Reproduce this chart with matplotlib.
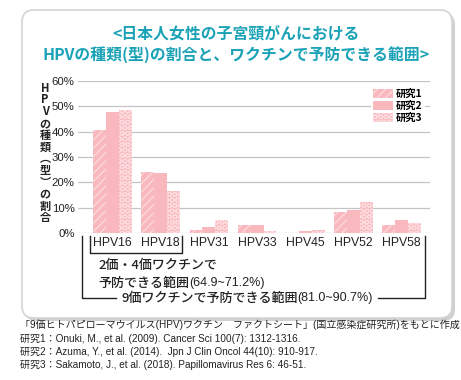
import numpy as np
import matplotlib
matplotlib.use("Agg")
import matplotlib.pyplot as plt
from matplotlib.patches import FancyBboxPatch, Patch

plt.rcParams['font.family'] = ['Liberation Sans', 'Noto Sans CJK JP', 'DejaVu Sans']
plt.rcParams['hatch.linewidth'] = 0.9

# data (percent)
hpv_types = ['HPV16', 'HPV18', 'HPV31', 'HPV33', 'HPV45', 'HPV52', 'HPV58']
study1 = [40.7, 24.0, 1.3, 3.0, 0.0, 8.4, 3.0]
study2 = [47.9, 23.7, 2.2, 3.0, 0.9, 8.9, 5.2]
study3 = [48.5, 16.6, 5.0, 0.9, 1.2, 12.1, 4.0]
study_names = ['研究1', '研究2', '研究3']
yticks = [0, 10, 20, 30, 40, 50, 60]

title_lines = ['<日本人女性の子宮頸がんにおける', 'HPVの種類(型)の割合と、ワクチンで予防できる範囲>']
ylabel_chars = ['H', 'P', 'V', 'の', '種', '類', '︵', '型', '︶', 'の', '割', '合']
notes = [
    '「9価ヒトパピローマウイルス(HPV)ワクチン　ファクトシート」(国立感染症研究所)をもとに作成',
    '研究1：Onuki, M., et al. (2009). Cancer Sci 100(7): 1312-1316.',
    '研究2：Azuma, Y., et al. (2014).  Jpn J Clin Oncol 44(10): 910-917.',
    '研究3：Sakamoto, J., et al. (2018). Papillomavirus Res 6: 46-51.',
]

W, H = 461, 380
pink = '#f8b8bd'
light = '#fcdadd'
cyan = '#1aa2b6'
ink = '#222222'
jp = ['Noto Sans CJK JP', 'DejaVu Sans']

fig = plt.figure(figsize=(W / 100, H / 100), dpi=100)
renderer = fig.canvas.get_renderer()

# background layer in pixel coordinates
bg = fig.add_axes([0, 0, 1, 1])
bg.set_xlim(0, W)
bg.set_ylim(H, 0)
bg.axis('off')

shadow = FancyBboxPatch((25, 13), 430, 308, boxstyle='round,pad=0,rounding_size=12',
                        facecolor='#d0d0d0', edgecolor='none')
bg.add_patch(shadow)
box = FancyBboxPatch((22, 10), 430, 308, boxstyle='round,pad=0,rounding_size=12',
                     facecolor='white', edgecolor='#d4d4d4', linewidth=1.2)
bg.add_patch(box)

bg.text(236, 33, title_lines[0], ha='center', va='center', fontsize=11.4,
        color=cyan, family=jp, fontweight='bold')
bg.text(236, 55, title_lines[1], ha='center', va='center', fontsize=11.4,
        color=cyan, family=jp, fontweight='bold')

# vertical y label: one glyph per line in a single text
bg.text(45, 153, '\n'.join(ylabel_chars), ha='center', va='center', ma='center',
        fontsize=8.0, linespacing=0.88, family=jp, fontweight='bold', color=ink)


def chain(x, y, parts, center=False):
    # parts: (text, size, family); laid out one after another
    widths = []
    for s, size, fam in parts:
        t = bg.text(0, 0, s, fontsize=size, family=fam)
        widths.append(t.get_window_extent(renderer).width)
        t.remove()
    if center:
        x = x - sum(widths) / 2
    for (s, size, fam), w in zip(parts, widths):
        bg.text(x, y, s, ha='left', va='center', fontsize=size, family=fam,
                color=ink, fontweight='medium')
        x += w
    return x


# brackets
k = dict(color=ink, linewidth=1.0)
bg.plot([90, 90, 182, 182], [236, 253, 253, 236], **k)
bg.plot([82, 82, 116], [236, 298, 298], **k)
bg.plot([378, 425, 425], [298, 298, 236], **k)

chain(98, 265, [('2価・4価ワクチンで', 9.4, jp)])
chain(98, 283, [('予防できる範囲', 9.4, jp), ('(64.9~71.2%)', 9.0, ['Liberation Sans'])])
chain(247, 298, [('9価ワクチンで予防できる範囲', 9.4, jp), ('(81.0~90.7%)', 9.0, ['Liberation Sans'])],
      center=True)

for i, line in enumerate(notes):
    bg.text(20, 325 + i * 13.5, line, ha='left', va='center', fontsize=7.2, color=ink)

# chart axes
x0, x1, ytop, ybot = 78, 430, 81, 233
ax = fig.add_axes([x0 / W, 1 - ybot / H, (x1 - x0) / W, (ybot - ytop) / H])
ax.patch.set_alpha(0)

x = np.arange(len(hpv_types))
bw = 0.266
hatches = ['////', None, 'OOO']
for j, (vals, hs) in enumerate(zip([study1, study2, study3], hatches)):
    ax.bar(x + (j - 1) * bw, vals, bw, color=pink, edgecolor=light,
           linewidth=0, hatch=hs, zorder=3)

ax.set_ylim(0, 60)
spacing = 48.2
left = -(112.5 - x0) / spacing
ax.set_xlim(left, left + (x1 - x0) / spacing)
ax.set_yticks(yticks)
ax.set_yticklabels([f'{v}%' for v in yticks], fontsize=8.2, color=ink)
ax.yaxis.grid(True, color='#c4c4c4', linewidth=0.9, zorder=0)
ax.set_axisbelow(True)
ax.set_xticks(x)
ax.set_xticklabels(hpv_types, fontsize=8.8, color=ink)
ax.tick_params(axis='both', length=0)
ax.tick_params(axis='y', pad=2.5)
ax.tick_params(axis='x', pad=3)
for s in ax.spines.values():
    s.set_visible(False)

handles = [Patch(facecolor=pink, edgecolor=light, linewidth=0, hatch=hs) for hs in hatches]
ax.legend(handles, study_names, loc='upper right', bbox_to_anchor=(0.985, 0.965),
          frameon=True, facecolor='white', edgecolor='none', framealpha=1,
          handlelength=1.9, handleheight=1.0, labelspacing=0.2,
          handletextpad=0.25, borderpad=0.25, borderaxespad=0,
          prop={'family': jp, 'weight': 'bold', 'size': 7.4})

fig.savefig('out.png', dpi=100)
